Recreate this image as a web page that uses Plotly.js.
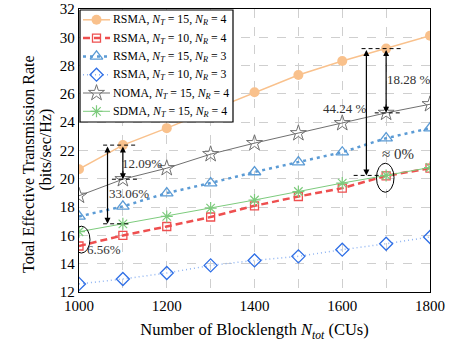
<!DOCTYPE html>
<html>
<head>
<meta charset="utf-8">
<script src="https://cdn.plot.ly/plotly-3.0.1.min.js"></script>
<style>
  html, body { margin: 0; padding: 0; background: #fff; }
  #chart { width: 470px; height: 350px; }
</style>
</head>
<body>
<div id="chart"></div>
<script>
// Blocklength (CUs)
const blocklength = [1000, 1100, 1200, 1300, 1400, 1500, 1600, 1700, 1800];

// Total effective transmission rate (bits/sec/Hz)
const rsma_15_4 = [20.68, 22.38, 23.58, 24.85, 26.12, 27.34, 28.33, 29.20, 30.11];
const rsma_10_4 = [15.25, 16.00, 16.63, 17.30, 18.09, 18.75, 19.34, 20.21, 20.75];
const rsma_15_3 = [17.34, 18.05, 18.99, 19.70, 20.48, 21.18, 21.88, 22.87, 23.58];
const rsma_10_3 = [12.57, 12.92, 13.34, 13.88, 14.23, 14.52, 14.99, 15.41, 15.89];
const noma_15_4 = [18.80, 19.97, 20.75, 21.74, 22.52, 23.22, 23.93, 24.66, 25.27];
const sdma_15_4 = [16.26, 16.82, 17.34, 17.93, 18.50, 19.10, 19.70, 20.24, 20.80];

const seriesNames = [
  'RSMA, <i>N<sub>T</sub></i> = 15, <i>N<sub>R</sub></i> = 4',
  'RSMA, <i>N<sub>T</sub></i> = 10, <i>N<sub>R</sub></i> = 4',
  'RSMA, <i>N<sub>T</sub></i> = 15, <i>N<sub>R</sub></i> = 3',
  'RSMA, <i>N<sub>T</sub></i> = 10, <i>N<sub>R</sub></i> = 3',
  'NOMA, <i>N<sub>T</sub></i> = 15, <i>N<sub>R</sub></i> = 4',
  'SDMA, <i>N<sub>T</sub></i> = 15, <i>N<sub>R</sub></i> = 4'
];
const xTickVals = [1000, 1200, 1400, 1600, 1800];
const yTickVals = [12, 14, 16, 18, 20, 22, 24, 26, 28, 30, 32];

// Percentage gains called out on the chart
const gainLabels = ['12.09%', '33.06%', '6.56%', '18.28 %', '44.24 %', '≈ 0%'];

const serif = 'Liberation Serif, Times New Roman, serif';

// Figure geometry (pixels)
const W = 470, H = 350;
const M = { l: 79, r: 40, t: 9, b: 58 };
const plotLeft = M.l, plotRight = W - M.r, plotTop = M.t, plotBottom = H - M.b;
const px2paperX = p => (p - plotLeft) / (plotRight - plotLeft);
const px2paperY = p => (plotBottom - p) / (plotBottom - plotTop);

// Per-series styling
const styles = [
  { line: { color: '#F9C18C', width: 1.5 },
    marker: { symbol: 'circle', size: 10, color: '#F9C18C' } },
  { line: { color: '#EE4F4F', width: 2.5, dash: '7px,4px' },
    marker: { symbol: 'square-open', size: 8, color: '#EE4F4F', line: { width: 1.3 } } },
  { line: { color: '#5B9BD5', width: 2.5, dash: '3px,4px' },
    marker: { symbol: 'triangle-up-open', size: 11, color: '#5B9BD5', line: { width: 1.3 } } },
  { line: { color: '#8FB4F2', width: 1.5, dash: '1px,3px' },
    marker: { symbol: 'diamond-open', size: 10, color: '#2F6FE6', line: { width: 1.3 } } },
  { line: { color: '#707070', width: 1 },
    marker: { symbol: 'star-open', size: 12, color: '#707070', line: { width: 1 } } },
  { line: { color: '#7DCB7D', width: 1 },
    marker: { symbol: 'asterisk-open', size: 10, color: '#7DCB7D', line: { width: 1.2 } } }
];
const seriesValues = [rsma_15_4, rsma_10_4, rsma_15_3, rsma_10_3, noma_15_4, sdma_15_4];

const traces = seriesValues.map((vals, k) => ({
  x: blocklength, y: vals, name: seriesNames[k], mode: 'lines+markers',
  line: styles[k].line, marker: styles[k].marker, showlegend: false
}));

// Legend box drawn on a pixel-unit overlay so it sits above the curves
const legBox = { x0: 80, x1: 233, y0: 10, y1: 122 };
const legRow0 = 19.8, legRowStep = 18.3;
const legLineX = [83, 110], legTextX = 111;

traces.push({
  x: [legBox.x0, legBox.x1, legBox.x1, legBox.x0, legBox.x0],
  y: [legBox.y0, legBox.y0, legBox.y1, legBox.y1, legBox.y0],
  xaxis: 'x2', yaxis: 'y2', mode: 'lines', fill: 'toself',
  fillcolor: '#ffffff', line: { color: '#000000', width: 1.2 },
  showlegend: false, hoverinfo: 'skip'
});
styles.forEach((s, k) => {
  const yRow = legRow0 + k * legRowStep;
  traces.push({
    x: legLineX, y: [yRow, yRow], xaxis: 'x2', yaxis: 'y2', mode: 'lines',
    line: s.line, showlegend: false, hoverinfo: 'skip'
  });
  traces.push({
    x: [(legLineX[0] + legLineX[1]) / 2], y: [yRow], xaxis: 'x2', yaxis: 'y2',
    mode: 'markers', marker: s.marker, showlegend: false, hoverinfo: 'skip'
  });
});

// Index helpers for the annotated blocklengths
const i1100 = blocklength.indexOf(1100);
const i1700 = blocklength.indexOf(1700);

const dashLine = (x0, x1, y) => ({
  type: 'line', xref: 'x', yref: 'y', x0: x0, x1: x1, y0: y, y1: y,
  line: { color: '#000', width: 1, dash: '4px,3px' }
});
const ellipse = (x0, x1, y0, y1) => ({
  type: 'circle', xref: 'x', yref: 'y', x0: x0, x1: x1, y0: y0, y1: y1,
  line: { color: '#000', width: 1 }
});
const doubleArrow = (x, yTop, yBottom) => ({
  xref: 'x', yref: 'y', axref: 'x', ayref: 'y',
  x: x, y: yBottom, ax: x, ay: yTop, text: '',
  showarrow: true, arrowside: 'end+start', arrowhead: 2, arrowsize: 1,
  arrowwidth: 1.2, arrowcolor: '#000', standoff: 0, startstandoff: 0
});
const label = (x, y, text, size) => ({
  xref: 'x', yref: 'y', x: x, y: y, text: text, showarrow: false,
  font: { family: serif, size: size || 13, color: '#333' }
});

const shapes = [
  dashLine(1055, 1132, rsma_15_4[i1100]),
  dashLine(1075, 1135, noma_15_4[i1100]),
  dashLine(1055, 1115, sdma_15_4[i1100]),
  ellipse(986, 1025, 14.75, 16.65),
  dashLine(1644, 1739, rsma_15_4[i1700]),
  dashLine(1674, 1737, noma_15_4[i1700]),
  dashLine(1626, 1686, sdma_15_4[i1700]),
  ellipse(1678, 1718, 19.05, 21.1)
];

const annotations = [
  doubleArrow(1065, rsma_15_4[i1100], sdma_15_4[i1100]),
  doubleArrow(1100, rsma_15_4[i1100], noma_15_4[i1100]),
  label(1143, 21.1, gainLabels[0]),
  label(1113, 18.95, gainLabels[1]),
  label(1057, 15.0, gainLabels[2]),
  doubleArrow(1655, rsma_15_4[i1700], sdma_15_4[i1700]),
  doubleArrow(1700, rsma_15_4[i1700], noma_15_4[i1700]),
  label(1751, 27.0, gainLabels[3]),
  label(1606, 25.0, gainLabels[4]),
  label(1728, 21.75, gainLabels[5], 15)
];

// Legend entry labels
seriesNames.forEach((name, k) => {
  annotations.push({
    xref: 'x2', yref: 'y2', x: legTextX, y: legRow0 + k * legRowStep,
    xanchor: 'left', yanchor: 'middle', text: name, showarrow: false,
    font: { family: serif, size: 11.8, color: '#000' }
  });
});

// Two-line y-axis title
const yTitleLines = ['Total Effective Transmission Rate', '(bits/sec/Hz)'];
annotations.push({
  xref: 'paper', yref: 'paper', x: px2paperX(28), y: px2paperY(164),
  xanchor: 'center', yanchor: 'middle', textangle: -90, showarrow: false,
  text: yTitleLines[0], font: { family: serif, size: 16, color: '#000' }
});
annotations.push({
  xref: 'paper', yref: 'paper', x: px2paperX(45.5), y: px2paperY(150),
  xanchor: 'center', yanchor: 'middle', textangle: -90, showarrow: false,
  text: yTitleLines[1], font: { family: serif, size: 16, color: '#000' }
});

const gridColor = '#cfcfcf';

const layout = {
  width: W, height: H,
  margin: M,
  paper_bgcolor: '#fff', plot_bgcolor: '#fff',
  font: { family: serif, size: 13, color: '#000' },
  showlegend: false,
  xaxis: {
    range: [1000, 1800], tickvals: xTickVals,
    showline: true, linecolor: '#000', linewidth: 1.3, mirror: true,
    showgrid: true, gridcolor: gridColor, griddash: 'dash', gridwidth: 1,
    minor: { dtick: 100, showgrid: true, gridcolor: gridColor, griddash: 'dash', gridwidth: 1 },
    zeroline: false, ticks: '',
    tickfont: { family: serif, size: 15, color: '#000' },
    title: {
      text: 'Number of Blocklength <i>N<sub>tot</sub></i> (CUs)',
      font: { family: serif, size: 16.5, color: '#000' }, standoff: 10
    }
  },
  yaxis: {
    range: [12, 32], tickvals: yTickVals,
    showline: true, linecolor: '#000', linewidth: 1.3, mirror: true,
    showgrid: true, gridcolor: gridColor, griddash: 'dash', gridwidth: 1,
    zeroline: false, ticks: '',
    tickfont: { family: serif, size: 15, color: '#000' }
  },
  xaxis2: { overlaying: 'x', range: [plotLeft, plotRight], visible: false, fixedrange: true },
  yaxis2: { overlaying: 'y', range: [plotBottom, plotTop], visible: false, fixedrange: true },
  shapes: shapes,
  annotations: annotations
};

Plotly.newPlot('chart', traces, layout, { staticPlot: true, displayModeBar: false });
</script>
</body>
</html>
